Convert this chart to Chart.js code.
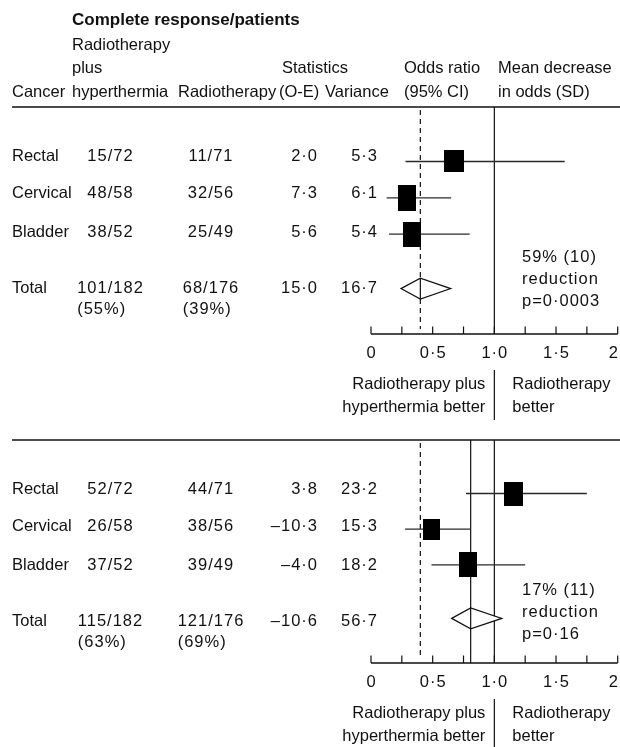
<!DOCTYPE html>
<html><head><meta charset="utf-8">
<script src="https://cdn.jsdelivr.net/npm/chart.js@4.4.0/dist/chart.umd.min.js"></script>
<style>
html,body{margin:0;padding:0;background:#fff;width:620px;height:747px;overflow:hidden;}
canvas{position:absolute;left:0;}
#c1{top:0}
#c2{top:430px}
</style></head><body>
<canvas id="c1" width="620" height="430"></canvas>
<canvas id="c2" width="620" height="317"></canvas>
<script>
// ---------- shared categories / axis ----------
const cancers = ['Rectal', 'Cervical', 'Bladder'];
const rowY = [1, 2, 3];
const totalY = 4.5;
const axisTicks = [0, 0.25, 0.5, 0.75, 1, 1.25, 1.5, 1.75, 2];
const tickLabels = ['0', '', '0·5', '', '1·0', '', '1·5', '', '2'];
const refDashed = 0.40;
const nullOR = 1;

// ---------- header ----------
const headTitle = 'Complete response/patients';
const headLine2 = ['Radiotherapy'];
const headLine3 = ['plus', 'Statistics', 'Odds ratio', 'Mean decrease'];
const headLine4 = ['Cancer', 'hyperthermia', 'Radiotherapy', '(O-E)', 'Variance', '(95% CI)', 'in odds (SD)'];
const betterLeft = ['Radiotherapy plus', 'hyperthermia better'];
const betterRight = ['Radiotherapy', 'better'];

// ---------- top panel ----------
const aRtHt = ['15/72', '48/58', '38/52'];
const aRt = ['11/71', '32/56', '25/49'];
const aOE = ['2·0', '7·3', '5·6'];
const aVar = ['5·3', '6·1', '5·4'];
const aOR = [0.675, 0.29, 0.33];
const aLo = [0.28, 0.127, 0.146];
const aHi = [1.57, 0.65, 0.80];
const aTotal = ['Total', '101/182', '68/176', '15·0', '16·7'];
const aTotalPct = ['(55%)', '(39%)'];
const aPooled = [0.243, 0.40, 0.646];
const aNote = ['59% (10)', 'reduction', 'p=0·0003'];

// ---------- bottom panel ----------
const bRtHt = ['52/72', '26/58', '37/52'];
const bRt = ['44/71', '38/56', '39/49'];
const bOE = ['3·8', '–10·3', '–4·0'];
const bVar = ['23·2', '15·3', '18·2'];
const bOR = [1.157, 0.49, 0.787];
const bLo = [0.77, 0.276, 0.49];
const bHi = [1.75, 0.808, 1.25];
const bTotal = ['Total', '115/182', '121/176', '–10·6', '56·7'];
const bTotalPct = ['(63%)', '(69%)'];
const bPooled = [0.654, 0.808, 1.06];
const bNote = ['17% (11)', 'reduction', 'p=0·16'];

// ---------- styles ----------
const aBoxW = [20, 18, 18], aBoxH = [22, 26, 25];
const bBoxW = [19, 17, 18], bBoxH = [24, 21, 25];
const FAM = '"Liberation Sans", Arial, sans-serif';
const FONT = '16.5px ' + FAM;
const BOLD = 'bold 17px ' + FAM;
const INK = '#111';
const NUM_LS = 1.0;

function txt(ctx, s, x, y, align, num, font) {
  ctx.font = font || FONT;
  ctx.textAlign = align || 'left';
  ctx.textBaseline = 'alphabetic';
  ctx.fillStyle = INK;
  const hasLS = ('letterSpacing' in ctx);
  if (hasLS) ctx.letterSpacing = num ? NUM_LS + 'px' : '0px';
  ctx.fillText(s, x, y);
  if (hasLS) ctx.letterSpacing = '0px';
}
function numWidth(ctx, s) {
  ctx.font = FONT;
  const hasLS = ('letterSpacing' in ctx);
  if (hasLS) ctx.letterSpacing = NUM_LS + 'px';
  const w = ctx.measureText(s).width;
  if (hasLS) ctx.letterSpacing = '0px';
  return w;
}
function hline(ctx, x1, x2, y) { ctx.beginPath(); ctx.moveTo(x1, y); ctx.lineTo(x2, y); ctx.stroke(); }
function vline(ctx, x, y1, y2) { ctx.beginPath(); ctx.moveTo(x, y1); ctx.lineTo(x, y2); ctx.stroke(); }
function boxImage(w, h) {
  const c = document.createElement('canvas');
  c.width = w; c.height = h;
  const g = c.getContext('2d');
  g.fillStyle = '#000'; g.fillRect(0, 0, w, h);
  return c;
}

function panelPlugin(P) {
  return {
    id: 'panel_' + P.id,
    beforeDatasetsDraw(chart) {
      const { ctx, chartArea: ca, scales: { x } } = chart;
      ctx.save();
      ctx.strokeStyle = INK;
      ctx.lineWidth = 1.6;
      hline(ctx, 12, 620, ca.top);
      ctx.lineWidth = 1.2;
      ctx.setLineDash([5, 4]);
      vline(ctx, x.getPixelForValue(refDashed), ca.top + 3, ca.bottom - 5);
      ctx.setLineDash([]);
      vline(ctx, x.getPixelForValue(nullOR), ca.top, ca.bottom);
      if (P.pooledLine) vline(ctx, x.getPixelForValue(P.pooled[1]), ca.top, ca.bottom);
      ctx.restore();
    },
    afterDatasetsDraw(chart) {
      const { ctx, chartArea: ca, scales: { x, y } } = chart;
      ctx.save();
      // pooled diamond
      const yt = y.getPixelForValue(totalY);
      const [pl, pe, ph] = P.pooled.map(v => x.getPixelForValue(v));
      const dh = 10.5;
      ctx.beginPath();
      ctx.moveTo(pl, yt); ctx.lineTo(pe, yt - dh); ctx.lineTo(ph, yt); ctx.lineTo(pe, yt + dh); ctx.closePath();
      ctx.fillStyle = '#fff'; ctx.fill();
      ctx.strokeStyle = INK; ctx.lineWidth = 1.2; ctx.stroke();
      vline(ctx, pe, yt - dh, yt + dh);

      // header (top panel only)
      if (P.header) {
        const hb = [ca.top - 82, ca.top - 57.5, ca.top - 34, ca.top - 10.5];
        txt(ctx, headTitle, 72, hb[0], 'left', false, BOLD);
        txt(ctx, headLine2[0], 72, hb[1]);
        const x3 = [72, 282, 404, 498];
        headLine3.forEach((s, i) => txt(ctx, s, x3[i], hb[2]));
        const x4 = [12, 72, 178, 279, 325, 404, 498];
        headLine4.forEach((s, i) => txt(ctx, s, x4[i], hb[3]));
      }

      // table rows
      const rb = [ca.top + 53.5, ca.top + 91, ca.top + 129.5];
      cancers.forEach((c, i) => {
        txt(ctx, c, 12, rb[i]);
        txt(ctx, P.rtht[i], 110.5, rb[i], 'center', true);
        txt(ctx, P.rt[i], 211, rb[i], 'center', true);
        txt(ctx, P.oe[i], 318, rb[i], 'right', true);
        txt(ctx, P.vari[i], 378, rb[i], 'right', true);
      });
      const tb = ca.top + 185.5, pb = ca.top + 207;
      txt(ctx, P.total[0], 12, tb);
      txt(ctx, P.total[1], 110.5, tb, 'center', true);
      txt(ctx, P.total[2], 211, tb, 'center', true);
      txt(ctx, P.total[3], 318, tb, 'right', true);
      txt(ctx, P.total[4], 378, tb, 'right', true);
      txt(ctx, P.pct[0], 110.5 - numWidth(ctx, P.total[1]) / 2, pb, 'left', true);
      txt(ctx, P.pct[1], 211 - numWidth(ctx, P.total[2]) / 2, pb, 'left', true);

      // annotation
      P.note.forEach((s, i) => txt(ctx, s, 522, ca.top + 155 + i * 22, 'left', true));

      // axis
      const ay = ca.bottom;
      ctx.strokeStyle = INK;
      ctx.lineWidth = 1.5;
      hline(ctx, x.getPixelForValue(axisTicks[0]), x.getPixelForValue(axisTicks[axisTicks.length - 1]), ay);
      ctx.lineWidth = 1.2;
      axisTicks.forEach((v, i) => {
        const px = x.getPixelForValue(v);
        vline(ctx, px, ay - 7.5, ay);
        if (tickLabels[i]) {
          const w = numWidth(ctx, tickLabels[i]);
          const cx = Math.min(px + 0.5, 619 - w / 2);
          txt(ctx, tickLabels[i], cx, ay + 24, 'center', true);
        }
      });

      // better labels
      const x1 = x.getPixelForValue(nullOR);
      vline(ctx, x1, ay + 36, ay + 86);
      txt(ctx, betterLeft[0], x1 - 9, ay + 54.5, 'right');
      txt(ctx, betterLeft[1], x1 - 9, ay + 77.5, 'right');
      txt(ctx, betterRight[0], x1 + 18, ay + 54.5, 'left');
      txt(ctx, betterRight[1], x1 + 18, ay + 77.5, 'left');
      ctx.restore();
    }
  };
}

function buildPanel(canvasId, P, pad) {
  const ciSets = P.or.map((_, i) => ({
    type: 'line',
    data: [{ x: P.lo[i], y: rowY[i] }, { x: P.hi[i], y: rowY[i] }],
    borderColor: '#2a2a2a', borderWidth: 1.3, pointRadius: 0, fill: false, order: 2
  }));
  const boxSet = {
    type: 'scatter',
    data: P.or.map((v, i) => ({ x: v, y: rowY[i] })),
    pointStyle: P.boxW.map((w, i) => boxImage(w, P.boxH[i])),
    pointRadius: 10, order: 0
  };
  return new Chart(document.getElementById(canvasId), {
    type: 'scatter',
    data: { datasets: [boxSet, ...ciSets] },
    options: {
      responsive: false, animation: false, devicePixelRatio: 1, events: [],
      layout: { padding: pad, autoPadding: false },
      plugins: { legend: { display: false }, tooltip: { enabled: false } },
      scales: {
        x: { type: 'linear', min: 0, max: 2, display: false },
        y: { type: 'linear', min: -0.5, max: 5.75, reverse: true, display: false }
      }
    },
    plugins: [panelPlugin(P)]
  });
}

buildPanel('c1', {
  id: 'a', header: true, pooledLine: false,
  rtht: aRtHt, rt: aRt, oe: aOE, vari: aVar, or: aOR, lo: aLo, hi: aHi,
  total: aTotal, pct: aTotalPct, pooled: aPooled, note: aNote, boxW: aBoxW, boxH: aBoxH
}, { left: 371, right: 2.3, top: 107, bottom: 96 });

buildPanel('c2', {
  id: 'b', header: false, pooledLine: true,
  rtht: bRtHt, rt: bRt, oe: bOE, vari: bVar, or: bOR, lo: bLo, hi: bHi,
  total: bTotal, pct: bTotalPct, pooled: bPooled, note: bNote, boxW: bBoxW, boxH: bBoxH
}, { left: 371, right: 2.3, top: 10, bottom: 84 });
</script></body></html>
